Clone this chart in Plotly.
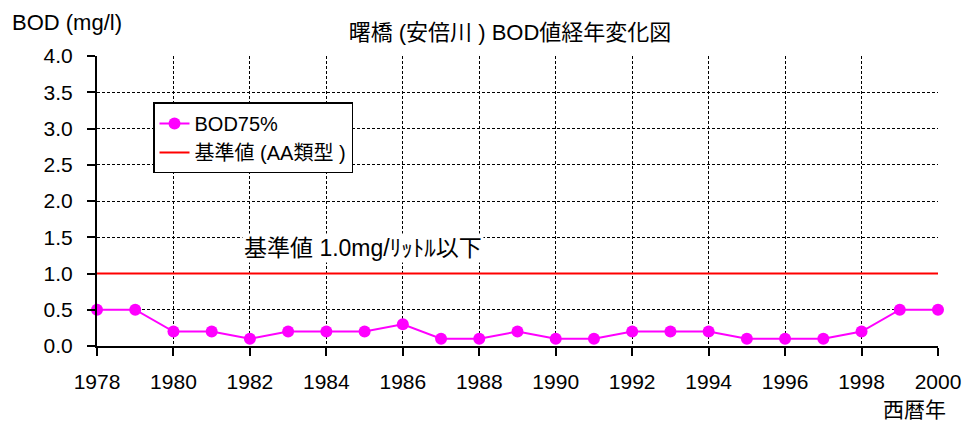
import plotly.graph_objects as go

years = list(range(1978, 2001))
bod75 = [0.5, 0.5, 0.2, 0.2, 0.1, 0.2, 0.2, 0.2, 0.3, 0.1, 0.1, 0.2, 0.1, 0.1,
         0.2, 0.2, 0.2, 0.1, 0.1, 0.1, 0.2, 0.5, 0.5]
standard = [1.0] * len(years)
x_ticks = list(range(1978, 2001, 2))
y_ticks = [0.0, 0.5, 1.0, 1.5, 2.0, 2.5, 3.0, 3.5, 4.0]

FONT = "Liberation Sans, Noto Sans CJK JP, sans-serif"

fig = go.Figure()
fig.add_trace(go.Scatter(x=years, y=bod75, mode="lines+markers", name="BOD75%",
                         line=dict(color="#FF00FF", width=2),
                         marker=dict(color="#FF00FF", size=12), cliponaxis=False))
fig.add_trace(go.Scatter(x=years, y=standard, mode="lines", name="基準値 (AA類型 )",
                         line=dict(color="#FF0000", width=2)))

fig.update_layout(
    width=971, height=435,
    margin=dict(l=97, r=33, t=56, b=89, autoexpand=False),
    plot_bgcolor="white", paper_bgcolor="white",
    font=dict(family=FONT, size=21, color="black"),
    title=dict(text="曙橋 (安倍川 ) BOD値経年変化図", x=510 / 971, xanchor="center",
               y=1 - 32 / 435, yanchor="middle", font=dict(size=22)),
    showlegend=True,
    legend=dict(x=0.0666, y=0.84, xanchor="left", yanchor="top",
                bgcolor="white", bordercolor="black", borderwidth=1.5,
                font=dict(size=20), tracegroupgap=0),
)
fig.update_xaxes(range=[1978, 2000], tickvals=x_ticks, showgrid=True, automargin=False,
                 gridcolor="black", griddash="3px,2px", gridwidth=1,
                 showline=True, linecolor="black", linewidth=2,
                 ticks="outside", ticklen=8, tickcolor="black", tickwidth=1.5,
                 ticklabelstandoff=8, zeroline=False)
fig.update_yaxes(range=[0, 4], tickvals=y_ticks, tickformat=".1f", showgrid=True, automargin=False,
                 gridcolor="black", griddash="3px,2px", gridwidth=1,
                 showline=True, linecolor="black", linewidth=2,
                 ticks="outside", ticklen=8, tickcolor="black", tickwidth=1.5,
                 ticklabelstandoff=10, zeroline=False)

fig.add_annotation(text="BOD (mg/l)", xref="paper", yref="paper", x=-0.1034, y=1.117,
                   xanchor="left", yanchor="middle", showarrow=False, font=dict(size=22))
fig.add_annotation(text="西暦年", xref="paper", yref="paper", x=1.012, y=-0.22,
                   xanchor="right", yanchor="middle", showarrow=False, font=dict(size=21))
fig.add_annotation(text="基準値 1.0mg/ﾘｯﾄﾙ以下", xref="x", yref="y", x=1984.96, y=1.35,
                   xanchor="center", yanchor="middle", showarrow=False,
                   bgcolor="white", font=dict(size=23))

fig.write_html("out.html", config={"displayModeBar": False},
               post_script="document.body.style.margin='0';")
